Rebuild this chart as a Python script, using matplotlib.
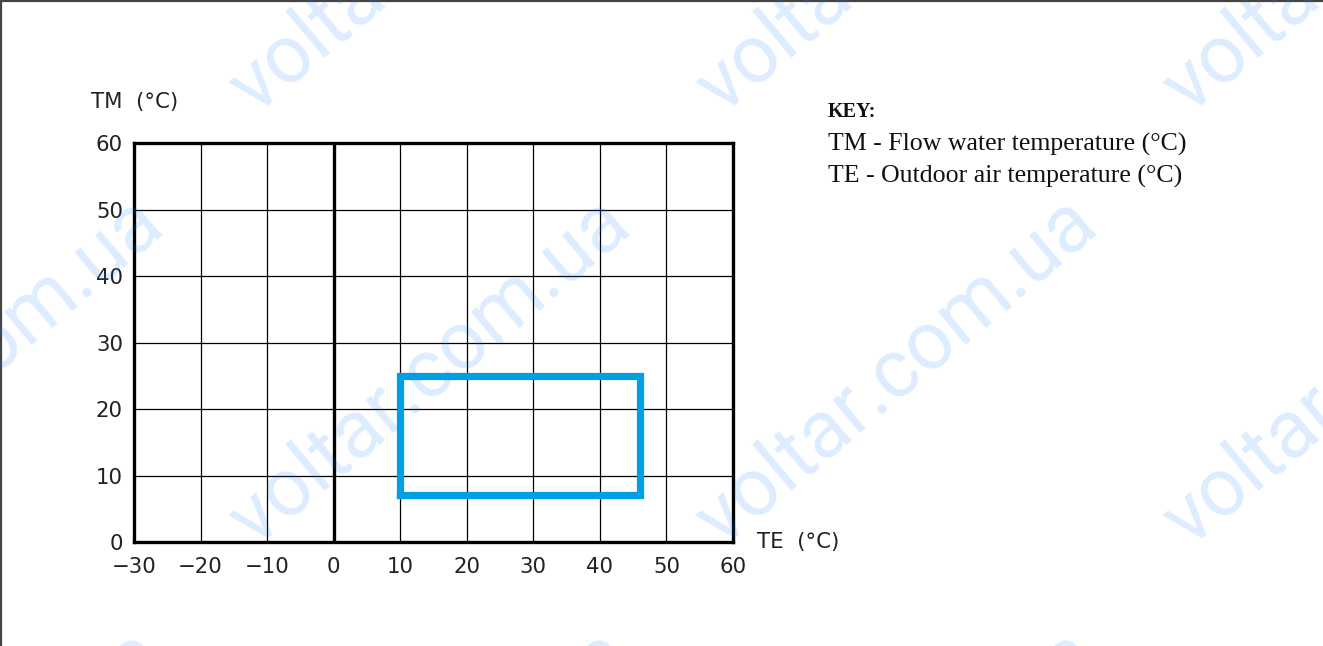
import matplotlib
matplotlib.use("Agg")
import matplotlib.pyplot as plt
from matplotlib.lines import Line2D

# ---- data ----
x_ticks = [-30, -20, -10, 0, 10, 20, 30, 40, 50, 60]
y_ticks = [0, 10, 20, 30, 40, 50, 60]
envelope_te = [10, 46, 46, 10, 10]
envelope_tm = [7, 7, 25, 25, 7]
x_label = "TE  (°C)"
y_label = "TM  (°C)"
key_title = "KEY:"
key_lines = ["TM - Flow water temperature (°C)", "TE - Outdoor air temperature (°C)"]
watermark = "voltar.com.ua"

W, H = 1323, 646
DPI = 100
fig = plt.figure(figsize=(W / DPI, H / DPI), dpi=DPI)
fig.patch.set_facecolor("white")

def fx(px):
    return px / W

def fy(py):
    return 1 - py / H

ax = fig.add_axes([fx(134), fy(542), fx(733) - fx(134), fy(143) - fy(542)])
ax.set_xlim(x_ticks[0], x_ticks[-1])
ax.set_ylim(y_ticks[0], y_ticks[-1])
ax.set_xticks(x_ticks)
ax.set_yticks(y_ticks)
tick_font = dict(family=["DejaVu Sans"], size=15.3)
ax.set_xticklabels([str(v).replace("-", "\u2212") for v in x_ticks], **tick_font)
ax.set_yticklabels([str(v) for v in y_ticks], **tick_font)
ax.tick_params(length=0, pad=8, colors="#222222")
ax.tick_params(axis="x", pad=11)
ax.grid(True, color="black", linewidth=0.9)
ax.set_axisbelow(True)
for s in ax.spines.values():
    s.set_linewidth(2.4)
    s.set_color("black")
ax.axvline(0, color="black", linewidth=2.4, zorder=2)

ax.plot(envelope_te, envelope_tm, color="#009FE3", linewidth=5.2,
        solid_joinstyle="miter", zorder=5)

# axis labels
fig.text(fx(91), fy(102), y_label, ha="left", va="center", color="#222222", **tick_font)
fig.text(fx(757), fy(542), x_label, ha="left", va="center", color="#222222", **tick_font)

# key
serif = ["Liberation Serif", "DejaVu Serif"]
fig.text(fx(828), fy(112), key_title, ha="left", va="center", family=serif,
         size=14.5, weight="bold", color="#111111")
for i, line in enumerate(key_lines):
    fig.text(fx(828), fy(144 + 32 * i), line, ha="left", va="center", family=serif,
             size=18.6, color="#111111")

# border (top and left)
fig.add_artist(Line2D([fx(1), fx(1)], [0, 1], transform=fig.transFigure,
                      color="#444444", linewidth=1.6))
fig.add_artist(Line2D([0, 1], [fy(1), fy(1)], transform=fig.transFigure,
                      color="#444444", linewidth=1.6))

# watermark tiling
renderer = fig.canvas.get_renderer()
wm_family = ["Roboto", "DejaVu Sans"]
probe = fig.text(0, 0, watermark, family=wm_family, size=50)
wpx = probe.get_window_extent(renderer).width
probe.remove()
wm_size = 50 * 495 / wpx
cx0, cy0, dx, dy = 430, 372, 467, 433
for i in range(-1, 4):
    for j in range(-1, 3):
        cx = cx0 + dx * i
        cy = cy0 + dy * j
        fig.text(fx(cx), fy(cy), watermark, family=wm_family,
                 size=wm_size, rotation=40, rotation_mode="anchor",
                 ha="center", va="center", color="#1a88ff", alpha=0.15, zorder=10)

fig.savefig("out.png", dpi=DPI)
